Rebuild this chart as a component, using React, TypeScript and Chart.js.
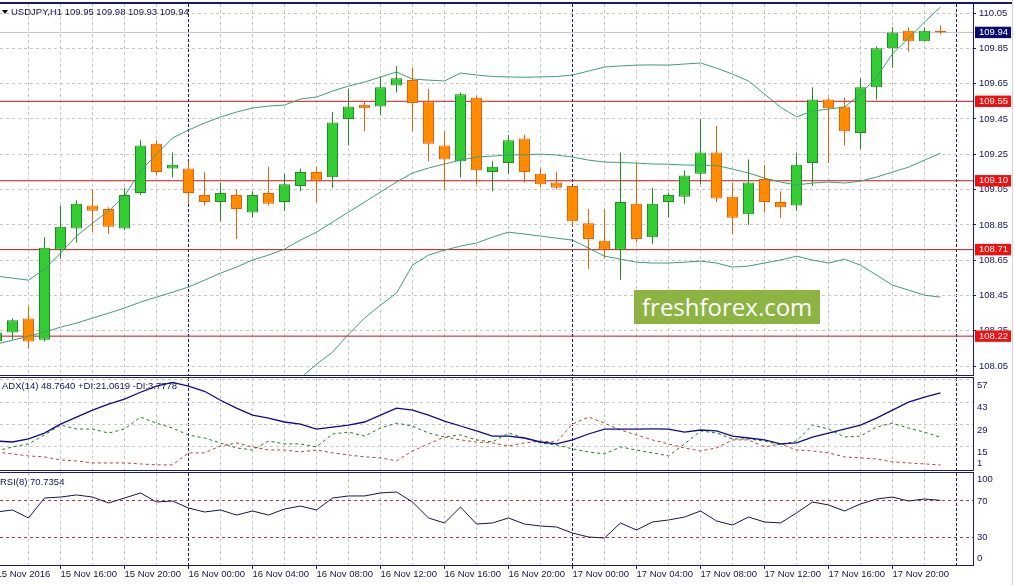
import { useEffect, useRef } from "react";
import { Chart, registerables } from "chart.js";

Chart.register(...registerables);

const FONT_FAMILY = "'Liberation Sans', Arial, sans-serif";
const FONT = { family: FONT_FAMILY, size: 9.5 };
const TEXT = "#14145a";
const FRAME = "#1b1b6e";
const GRID = "#c6c6c6";
const BB = "#3c9e72";
const BULL_FILL = "#32cd32";
const BULL_LINE = "#228b22";
const BEAR_FILL = "#ff8c00";
const BEAR_LINE = "#e2600c";
const LEVEL = "#d01212";
const LEVEL_BOX = "#f01010";
const PRICE_LINE = "#c4c4c4";
const PRICE_BOX = "#0a0a6e";

const W = 1015;
const AXIS_W = 42;
// one bar = 16 px, bar i sits at x = 16 * i - 3.5
const X_MIN = 0.21875;
const X_MAX = 61.03125;

// hourly bars, index 0 = 15 Nov 2016 12:00 ... index 59 = 17 Nov 23:00
const xTickLabels = [
  "15 Nov 2016", "15 Nov 16:00", "15 Nov 20:00",
  "16 Nov 00:00", "16 Nov 04:00", "16 Nov 08:00", "16 Nov 12:00", "16 Nov 16:00", "16 Nov 20:00",
  "17 Nov 00:00", "17 Nov 04:00", "17 Nov 08:00", "17 Nov 12:00", "17 Nov 16:00", "17 Nov 20:00",
];
const daySeparators = [12, 36, 60];

const opens = [
  108.19, 108.24, 108.32, 108.20, 108.71, 108.83, 108.96, 108.94, 108.83, 109.03,
  109.31, 109.17, 109.17, 109.02, 108.98, 109.02, 108.92, 109.03, 108.98, 109.07,
  109.15, 109.12, 109.45, 109.53, 109.52, 109.64, 109.67, 109.55, 109.30, 109.21,
  109.57, 109.15, 109.20, 109.34, 109.14, 109.09, 109.07, 108.86, 108.76, 108.71,
  108.97, 108.78, 108.98, 109.01, 109.14, 109.26, 109.01, 108.91, 109.11, 108.98,
  108.96, 109.20, 109.56, 109.52, 109.37, 109.63, 109.85, 109.95, 109.89, 109.95,
];
const highs = [
  108.25, 108.32, 108.39, 108.78, 108.96, 108.99, 109.05, 108.95, 109.06, 109.33,
  109.33, 109.26, 109.21, 109.15, 109.09, 109.05, 109.04, 109.18, 109.14, 109.17,
  109.18, 109.49, 109.62, 109.55, 109.69, 109.75, 109.74, 109.62, 109.38, 109.60,
  109.58, 109.21, 109.36, 109.36, 109.17, 109.15, 109.07, 108.94, 108.94, 109.26,
  109.20, 109.06, 109.03, 109.16, 109.45, 109.41, 109.09, 109.22, 109.19, 109.04,
  109.26, 109.63, 109.57, 109.57, 109.68, 109.86, 109.97, 109.97, 109.97, 109.98,
];
const lows = [
  108.18, 108.20, 108.15, 108.19, 108.66, 108.75, 108.81, 108.80, 108.82, 109.02,
  109.13, 109.12, 108.97, 108.96, 108.87, 108.77, 108.89, 108.96, 108.93, 109.04,
  108.98, 109.06, 109.30, 109.38, 109.47, 109.60, 109.38, 109.21, 109.05, 109.12,
  109.08, 109.04, 109.14, 109.09, 109.06, 109.05, 108.84, 108.60, 108.66, 108.54,
  108.75, 108.74, 108.89, 108.97, 109.08, 108.98, 108.80, 108.85, 108.92, 108.89,
  108.93, 109.07, 109.20, 109.30, 109.28, 109.56, 109.74, 109.83, 109.89, 109.93,
];
const closes = [
  108.24, 108.31, 108.19, 108.72, 108.84, 108.97, 108.93, 108.84, 109.02, 109.30,
  109.15, 109.19, 109.03, 108.98, 109.03, 108.94, 109.02, 108.97, 109.08, 109.15,
  109.10, 109.43, 109.52, 109.51, 109.63, 109.68, 109.54, 109.31, 109.22, 109.59,
  109.16, 109.18, 109.33, 109.15, 109.08, 109.06, 108.87, 108.77, 108.71, 108.98,
  108.77, 108.97, 109.02, 109.13, 109.26, 109.00, 108.89, 109.09, 108.98, 108.95,
  109.19, 109.56, 109.51, 109.38, 109.63, 109.85, 109.94, 109.89, 109.95, 109.94,
];

const bbUpper = [
  108.560, 108.549, 108.537, 108.600, 108.690, 108.787, 108.860, 108.928, 109.013, 109.155,
  109.251, 109.342, 109.387, 109.427, 109.461, 109.489, 109.512, 109.523, 109.529, 109.563,
  109.574, 109.608, 109.636, 109.659, 109.687, 109.716, 109.676, 109.670, 109.665, 109.710,
  109.699, 109.690, 109.688, 109.686, 109.688, 109.690, 109.699, 109.721, 109.744, 109.750,
  109.755, 109.756, 109.755, 109.761, 109.767, 109.738, 109.704, 109.665, 109.591, 109.517,
  109.461, 109.495, 109.506, 109.517, 109.591, 109.687, 109.818, 109.908, 109.999, 110.084,
];
const bbMiddle = [
  108.175, 108.197, 108.220, 108.243, 108.271, 108.294, 108.322, 108.350, 108.379, 108.413,
  108.441, 108.469, 108.498, 108.537, 108.577, 108.611, 108.651, 108.679, 108.713, 108.764,
  108.809, 108.866, 108.923, 108.979, 109.036, 109.093, 109.144, 109.172, 109.195, 109.217,
  109.234, 109.240, 109.246, 109.247, 109.251, 109.246, 109.234, 109.217, 109.206, 109.204,
  109.200, 109.195, 109.194, 109.189, 109.188, 109.187, 109.166, 109.144, 109.115, 109.093,
  109.076, 109.087, 109.093, 109.087, 109.098, 109.121, 109.149, 109.177, 109.217, 109.257,
];
const bbLower = [
  107.789, 107.846, 107.903, 107.886, 107.852, 107.801, 107.784, 107.772, 107.744, 107.670,
  107.631, 107.597, 107.608, 107.648, 107.693, 107.733, 107.789, 107.835, 107.897, 107.982,
  108.061, 108.129, 108.231, 108.322, 108.396, 108.464, 108.622, 108.679, 108.707, 108.730,
  108.747, 108.781, 108.809, 108.798, 108.787, 108.775, 108.764, 108.719, 108.673, 108.656,
  108.639, 108.634, 108.634, 108.639, 108.645, 108.634, 108.611, 108.617, 108.634, 108.651,
  108.673, 108.651, 108.634, 108.656, 108.622, 108.566, 108.509, 108.481, 108.452, 108.441,
];

const adx = [
  18.7, 18.1, 20.0, 23.7, 29.3, 33.7, 38.0, 41.8, 44.9, 49.2,
  53.0, 55.4, 53.0, 49.8, 44.2, 39.3, 34.9, 33.0, 30.6, 29.3,
  26.2, 27.4, 28.7, 30.6, 34.9, 39.3, 38.0, 34.9, 31.2, 28.1,
  25.0, 21.8, 21.8, 20.6, 18.1, 16.9, 19.4, 23.1, 26.2, 26.2,
  26.2, 26.3, 26.2, 24.3, 25.6, 25.0, 21.8, 20.6, 19.4, 16.9,
  17.5, 21.2, 23.7, 26.2, 28.7, 33.0, 38.0, 43.0, 46.1, 48.764,
];
const plusDi = [
  12.5, 15.0, 16.9, 22.5, 28.7, 26.2, 26.2, 23.7, 26.2, 33.7,
  29.9, 26.8, 22.5, 20.6, 17.5, 14.4, 13.1, 18.7, 16.9, 16.9,
  15.0, 23.1, 24.3, 21.8, 26.8, 29.9, 28.1, 23.7, 21.2, 22.5,
  19.4, 18.1, 23.7, 20.6, 17.5, 16.2, 13.8, 11.9, 10.6, 15.0,
  13.1, 11.3, 9.4, 16.9, 25.0, 23.7, 20.0, 20.0, 18.7, 16.2,
  18.7, 28.7, 26.2, 21.2, 21.8, 27.4, 29.9, 26.8, 24.3, 21.0619,
];
const minusDi = [
  11.9, 10.6, 9.4, 8.8, 6.9, 6.3, 5.0, 5.0, 5.0, 4.4,
  3.8, 3.8, 11.3, 11.3, 15.6, 17.5, 15.0, 13.1, 13.1, 11.9,
  13.1, 11.3, 10.0, 8.8, 8.2, 6.3, 12.5, 16.9, 21.2, 19.4,
  18.1, 17.5, 15.6, 17.5, 18.7, 18.1, 29.3, 33.7, 29.9, 25.6,
  22.5, 19.4, 16.9, 14.4, 12.5, 14.4, 19.4, 19.4, 15.0, 16.9,
  13.1, 12.5, 11.3, 8.8, 8.2, 7.5, 5.7, 5.0, 4.4, 3.7778,
];
const rsi = [
  57.8, 60.0, 51.1, 73.3, 74.4, 76.7, 74.4, 67.8, 73.3, 78.9,
  68.9, 70.0, 62.2, 57.8, 60.0, 54.4, 58.9, 54.4, 61.1, 64.4,
  60.0, 73.3, 75.6, 75.6, 78.9, 80.0, 68.9, 51.1, 45.6, 63.3,
  44.4, 45.6, 51.1, 44.4, 42.2, 41.1, 34.4, 30.0, 28.9, 45.6,
  37.8, 46.7, 48.9, 52.2, 58.9, 47.8, 43.3, 52.2, 46.7, 45.6,
  56.7, 68.9, 65.6, 58.9, 66.7, 72.2, 74.4, 70.0, 72.2, 70.7354,
];

const levels = [109.55, 109.1, 108.71, 108.22];
const priceTicks = [110.05, 109.85, 109.65, 109.45, 109.25, 109.05, 108.85, 108.65, 108.45, 108.25, 108.05];
const adxTicks = [57, 43, 29, 15, 1];
const rsiTicks = [100, 70, 30, 0];
const rsiLevels = [70, 30];

const bars = opens.map((_, i) => i);
const bull = opens.map((o, i) => closes[i] >= o);
const last = closes.length - 1;
const lastClose = closes[last];
const markPrices = [lastClose, ...levels];
const gridBars = Array.from({ length: 31 }, (_, k) => k * 2);

const isMark = (v?: number) => v !== undefined && markPrices.includes(v);

const common = {
  responsive: false,
  animation: false,
  events: [],
  layout: { padding: 0 },
  plugins: { legend: { display: false }, tooltip: { enabled: false } },
};

function timeScale(showLabels: boolean): any {
  return {
    type: "linear",
    min: X_MIN,
    max: X_MAX,
    bounds: "data",
    offset: false,
    afterBuildTicks: (s: any) => {
      s.ticks = gridBars.map((v) => ({ value: v }));
    },
    afterFit: (s: any) => {
      s.height = showLabels ? 20 : 0;
      s.paddingLeft = 0;
      s.paddingRight = 0;
    },
    grid: {
      offset: false,
      color: (c: any) => (daySeparators.includes(c.tick?.value) ? FRAME : GRID),
      drawTicks: showLabels,
      tickLength: 4,
      tickColor: (c: any) =>
        c.tick && c.tick.value % 4 === 0 && c.tick.value / 4 < xTickLabels.length ? FRAME : "transparent",
    },
    border: {
      display: false,
      dash: (c: any) => (c.tick ? (daySeparators.includes(c.tick.value) ? [3, 2] : [3, 3]) : []),
    },
    ticks: {
      display: showLabels,
      autoSkip: false,
      maxRotation: 0,
      minRotation: 0,
      align: "start",
      padding: 0,
      color: TEXT,
      font: FONT,
      callback: (v: number) => (v % 4 === 0 ? xTickLabels[v / 4] ?? "" : ""),
    },
  };
}

function line(values: number[], color: string, extra: any = {}) {
  return {
    type: "line",
    data: bars.map((i) => ({ x: i, y: values[i] })),
    borderColor: color,
    borderWidth: 1,
    pointRadius: 0,
    tension: 0,
    fill: false,
    order: 0,
    ...extra,
  };
}

// horizontal price line across the whole window, kept behind the candles
function hLevel(price: number, color: string) {
  return {
    type: "line",
    data: [
      { x: X_MIN, y: price },
      { x: X_MAX, y: price },
    ],
    borderColor: color,
    borderWidth: 1,
    pointRadius: 0,
    fill: false,
    order: 3,
  };
}

function mainConfig(): any {
  return {
    type: "bar",
    data: {
      datasets: [
        line(bbUpper, BB),
        line(bbMiddle, BB),
        line(bbLower, BB),
        {
          type: "bar",
          data: bars.map((i) => ({ x: i, y: [opens[i], closes[i]] })),
          backgroundColor: bull.map((b) => (b ? BULL_FILL : BEAR_FILL)),
          borderColor: bull.map((b) => (b ? BULL_LINE : BEAR_LINE)),
          borderWidth: 1,
          borderSkipped: false,
          barThickness: 11,
          grouped: false,
          inflateAmount: 0,
          order: 1,
        },
        {
          type: "bar",
          data: bars.map((i) => ({ x: i, y: [lows[i], highs[i]] })),
          backgroundColor: bull.map((b) => (b ? BULL_LINE : BEAR_LINE)),
          borderWidth: 0,
          barThickness: 1,
          grouped: false,
          inflateAmount: 0,
          order: 2,
        },
        hLevel(lastClose, PRICE_LINE),
        ...levels.map((p) => hLevel(p, LEVEL)),
      ],
    },
    options: {
      ...common,
      scales: {
        x: timeScale(false),
        y: {
          type: "linear",
          position: "right",
          min: 108.0,
          max: 110.101,
          bounds: "data",
          afterBuildTicks: (s: any) => {
            s.ticks = [...priceTicks, ...markPrices].map((v) => ({ value: v }));
          },
          afterFit: (s: any) => {
            s.width = AXIS_W;
            s.paddingTop = 0;
            s.paddingBottom = 0;
          },
          grid: {
            color: (c: any) => (isMark(c.tick?.value) ? "transparent" : GRID),
            tickLength: 3,
            tickColor: (c: any) => (isMark(c.tick?.value) ? "transparent" : FRAME),
          },
          border: {
            display: true,
            color: FRAME,
            width: 1,
            dash: (c: any) => (c.tick ? [3, 3] : []),
          },
          ticks: {
            autoSkip: false,
            padding: 3,
            font: FONT,
            color: (c: any) => (isMark(c.tick?.value) ? "#ffffff" : TEXT),
            showLabelBackdrop: (c: any) => isMark(c.tick?.value),
            backdropColor: (c: any) => (c.tick?.value === lastClose ? PRICE_BOX : LEVEL_BOX),
            backdropPadding: { top: 0, bottom: 0, left: 4, right: 3 },
            callback: (v: number) => Number(v).toFixed(2),
          },
        },
      },
    },
  };
}

function adxConfig(): any {
  return {
    type: "line",
    data: {
      datasets: [
        line(adx, "#0c0c8c", { borderWidth: 1.3 }),
        line(plusDi, "#1f7a1f", { borderDash: [3, 3] }),
        line(minusDi, "#c23b2b", { borderDash: [3, 3] }),
      ],
    },
    options: {
      ...common,
      scales: {
        x: timeScale(false),
        y: {
          type: "linear",
          position: "right",
          min: 0.6,
          max: 58.1,
          bounds: "data",
          afterBuildTicks: (s: any) => {
            s.ticks = adxTicks.map((v) => ({ value: v }));
          },
          afterFit: (s: any) => {
            s.width = AXIS_W;
            s.paddingTop = 0;
            s.paddingBottom = 0;
          },
          grid: {
            color: (c: any) => (c.tick?.value === 1 ? "transparent" : GRID),
            drawTicks: false,
          },
          border: { display: true, color: FRAME, width: 1, dash: (c: any) => (c.tick ? [3, 3] : []) },
          ticks: {
            autoSkip: false,
            padding: 4,
            font: FONT,
            color: TEXT,
            // labels hang below their level, the lowest one sits above it
            callback: (v: number) => (v === 1 ? ["1", ""] : ["", String(v)]),
          },
        },
      },
    },
  };
}

function rsiConfig(): any {
  return {
    type: "line",
    data: { datasets: [line(rsi, "#161650")] },
    options: {
      ...common,
      scales: {
        x: timeScale(true),
        y: {
          type: "linear",
          position: "right",
          min: -1.1,
          max: 101.1,
          bounds: "data",
          afterBuildTicks: (s: any) => {
            s.ticks = rsiTicks.map((v) => ({ value: v }));
          },
          afterFit: (s: any) => {
            s.width = AXIS_W;
            s.paddingTop = 0;
            s.paddingBottom = 0;
          },
          grid: {
            color: (c: any) => (rsiLevels.includes(c.tick?.value) ? "#c83232" : "transparent"),
            drawTicks: false,
          },
          border: { display: true, color: FRAME, width: 1, dash: (c: any) => (c.tick ? [3, 3] : []) },
          ticks: {
            autoSkip: false,
            padding: 4,
            font: FONT,
            color: TEXT,
            callback: (v: number) => (v === 100 ? ["", "100"] : v === 0 ? ["0", ""] : String(v)),
          },
        },
      },
    },
  };
}

function ChartCanvas({ top, height, build }: { top: number; height: number; build: () => any }) {
  const ref = useRef<HTMLCanvasElement>(null);

  useEffect(() => {
    if (!ref.current) return;
    const chart = new Chart(ref.current, build());
    return () => {
      chart.destroy();
    };
  }, [build]);

  return (
    <canvas
      ref={ref}
      width={W}
      height={height}
      style={{ position: "absolute", left: 0, top, width: W, height }}
    />
  );
}

function HLine({ top, width, h = 1 }: { top: number; width: number; h?: number }) {
  return <div style={{ position: "absolute", left: 0, top, width, height: h, background: FRAME }} />;
}

const label = {
  position: "absolute" as const,
  fontFamily: FONT_FAMILY,
  fontSize: "9.5px",
  lineHeight: "11px",
  color: TEXT,
  whiteSpace: "pre" as const,
};

export default function App() {
  const ohlc = [opens[last], highs[last], lows[last], closes[last]].map((v) => v.toFixed(2)).join(" ");
  return (
    <div
      style={{
        position: "fixed",
        left: 0,
        top: 0,
        width: W,
        height: 585,
        background: "#ffffff",
        overflow: "hidden",
      }}
    >
      <ChartCanvas top={4} height={371} build={mainConfig} />
      <ChartCanvas top={378} height={92} build={adxConfig} />
      <ChartCanvas top={473} height={112} build={rsiConfig} />

      <HLine top={2} width={1012} h={2} />
      <HLine top={375} width={974} />
      <HLine top={377} width={974} />
      <HLine top={470} width={974} />
      <HLine top={472} width={974} />
      <HLine top={565} width={974} />
      <div style={{ position: "absolute", left: 1012, top: 0, width: 1, height: 585, background: "#d4d4d4" }} />

      <div
        style={{
          position: "absolute",
          left: 2,
          top: 10,
          width: 0,
          height: 0,
          borderLeft: "3px solid transparent",
          borderRight: "3px solid transparent",
          borderTop: "4px solid #000",
        }}
      />
      <div style={{ ...label, left: 11, top: 6 }}>{`USDJPY,H1 ${ohlc}`}</div>
      <div style={{ ...label, left: 2, top: 380 }}>
        {`ADX(14) ${adx[last].toFixed(4)} +DI:${plusDi[last].toFixed(4)} -DI:${minusDi[last].toFixed(4)}`}
      </div>
      <div style={{ ...label, left: 0, top: 476 }}>{`RSI(8) ${rsi[last].toFixed(4)}`}</div>

      <div
        style={{
          position: "absolute",
          left: 634,
          top: 290,
          width: 186,
          height: 34,
          boxSizing: "border-box",
          paddingLeft: 8,
          background: "#8db443",
          color: "#ffffff",
          fontFamily: "'Open Sans', 'Noto Sans', sans-serif",
          fontSize: "24px",
          lineHeight: "34px",
          whiteSpace: "nowrap",
        }}
      >
        freshforex.com
      </div>
    </div>
  );
}
